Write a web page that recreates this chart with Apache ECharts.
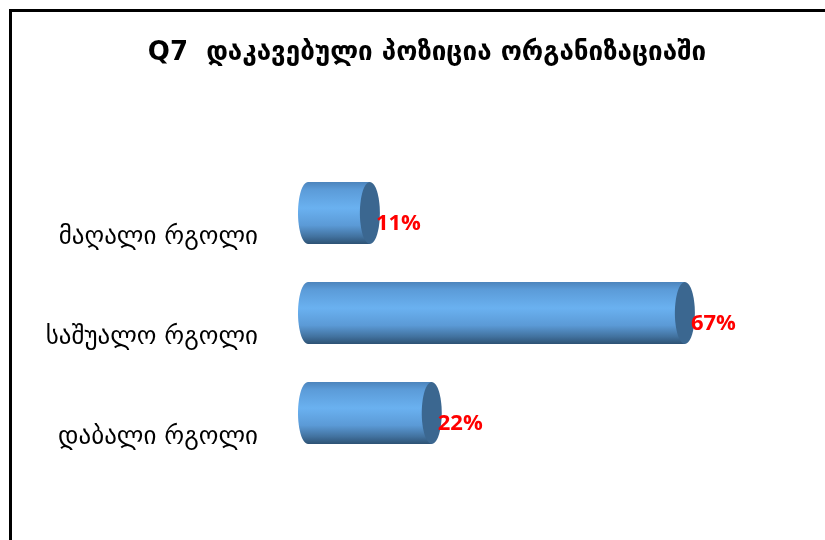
<!DOCTYPE html>
<html>
<head>
<meta charset="utf-8">
<script src="https://cdn.jsdelivr.net/npm/echarts@6/dist/echarts.min.js"></script>
<style>
  html, body { margin: 0; padding: 0; background: #fff; }
  #chart { width: 825px; height: 540px; }
</style>
</head>
<body>
<div id="chart"></div>
<script>
// Share of respondents by position held in the organisation
const titleText = 'Q7  დაკავებული პოზიცია ორგანიზაციაში';
const categories = ['მაღალი რგოლი', 'საშუალო რგოლი', 'დაბალი რგოლი'];
const percentValues = [11, 67, 22];

const chart = echarts.init(document.getElementById('chart'), null, { renderer: 'canvas' });

const bodyGradient = new echarts.graphic.LinearGradient(0, 0, 0, 1, [
  { offset: 0, color: '#4c84bc' },
  { offset: 0.12, color: '#5b9bd8' },
  { offset: 0.42, color: '#6ab1f0' },
  { offset: 0.7, color: '#5b9ad6' },
  { offset: 0.88, color: '#42729f' },
  { offset: 1, color: '#2d5274' }
]);
const capColor = '#3b6790';
const capRx = 10;

function renderCylinder(params, api) {
  const v = api.value(0);
  const start = api.coord([0, api.value(1)]);
  const end = api.coord([v, api.value(1)]);
  const h = api.size([0, 1])[1] * 0.62;
  const cy = start[1];
  return {
    type: 'group',
    children: [
      { type: 'ellipse', shape: { cx: start[0], cy: cy, rx: capRx, ry: h / 2 },
        style: { fill: bodyGradient } },
      { type: 'rect', shape: { x: start[0], y: cy - h / 2, width: end[0] - start[0], height: h },
        style: { fill: bodyGradient } },
      { type: 'ellipse', shape: { cx: end[0], cy: cy, rx: capRx, ry: h / 2 },
        style: { fill: capColor } },
      { type: 'text', x: end[0] + 6, y: cy + 11,
        style: { text: v + '%', fill: '#ff0000', font: 'bold 22px "Open Sans", sans-serif',
                 textAlign: 'left', textVerticalAlign: 'middle' } }
    ]
  };
}

chart.setOption({
  animation: false,
  backgroundColor: '#ffffff',
  title: {
    text: titleText,
    left: 422,
    textAlign: 'center',
    top: 35,
    textStyle: { fontFamily: 'DejaVu Sans', fontWeight: 'bold', fontSize: 26, color: '#000' }
  },
  graphic: [
    { type: 'polyline', shape: { points: [[10.5, 540], [10.5, 10.5], [825, 10.5]] },
      style: { stroke: '#000', lineWidth: 3, fill: null } }
  ],
  grid: { left: 308, right: 67, top: 163, bottom: 77 },
  xAxis: {
    type: 'value', min: 0, max: 80,
    show: false
  },
  yAxis: {
    type: 'category',
    data: categories,
    inverse: true,
    axisLine: { show: false },
    axisTick: { show: false },
    axisLabel: {
      margin: 50,
      fontFamily: 'DejaVu Sans',
      fontSize: 25,
      color: '#000',
      verticalAlign: 'top',
      lineHeight: 48
    }
  },
  series: [{
    type: 'custom',
    renderItem: renderCylinder,
    encode: { x: 0, y: 1 },
    data: percentValues.map((v, i) => [v, i])
  }]
});
</script>
</body>
</html>
